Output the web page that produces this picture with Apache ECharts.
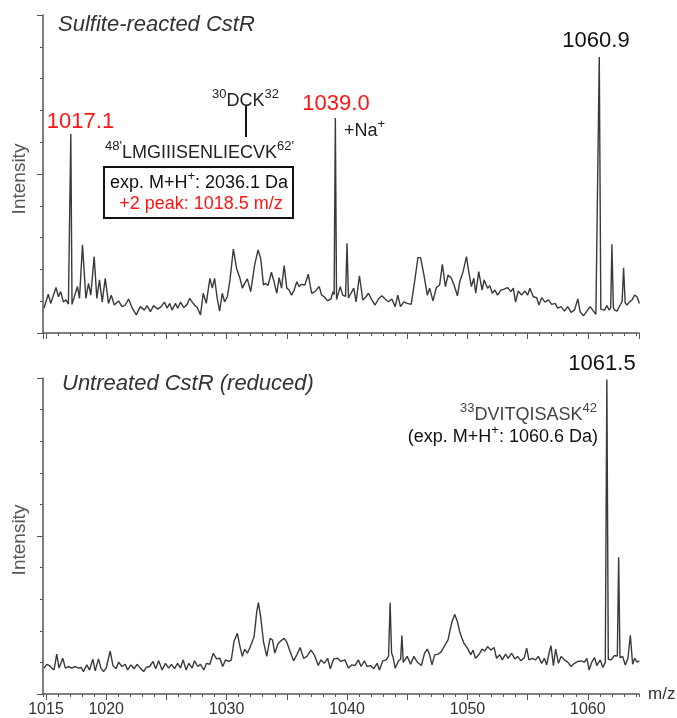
<!DOCTYPE html>
<html><head><meta charset="utf-8">
<script src="https://cdn.jsdelivr.net/npm/echarts@6/dist/echarts.min.js"></script>
<style>html,body{margin:0;padding:0;background:#fff}#c{width:677px;height:718px}</style>
</head><body><div id="c"></div>
<script>
// ---- Data (m/z, relative intensity 0-100 of panel height) ----
const topMz = [1014.83,1015.19,1015.39,1015.83,1016.03,1016.22,1016.44,1016.67,1016.86,1016.96,1017.06,1017.16,1017.28,1017.61,1017.78,1018.03,1018.31,1018.53,1018.72,1019.00,1019.22,1019.44,1019.67,1019.92,1020.19,1020.42,1020.67,1021.03,1021.31,1021.58,1021.86,1022.14,1022.50,1022.83,1023.17,1023.39,1023.67,1023.94,1024.28,1024.56,1024.83,1025.06,1025.28,1025.47,1025.75,1025.94,1026.17,1026.44,1026.72,1026.94,1027.14,1027.33,1027.56,1027.83,1028.06,1028.31,1028.61,1028.81,1029.00,1029.22,1029.42,1029.64,1029.83,1030.06,1030.28,1030.56,1030.83,1031.11,1031.31,1031.50,1031.72,1032.00,1032.33,1032.61,1032.83,1033.06,1033.25,1033.44,1033.72,1033.94,1034.17,1034.36,1034.56,1034.78,1035.00,1035.19,1035.39,1035.61,1035.83,1036.03,1036.22,1036.50,1036.78,1037.06,1037.33,1037.69,1037.89,1038.11,1038.39,1038.67,1038.83,1038.93,1039.03,1039.13,1039.22,1039.44,1039.64,1039.88,1040.00,1040.12,1040.28,1040.56,1040.75,1041.03,1041.31,1041.58,1041.78,1042.06,1042.33,1042.61,1042.89,1043.17,1043.44,1043.72,1044.00,1044.22,1044.44,1044.72,1045.00,1045.33,1045.61,1045.89,1046.11,1046.39,1046.67,1046.86,1047.14,1047.42,1047.69,1047.92,1048.17,1048.39,1048.67,1048.89,1049.17,1049.36,1049.64,1049.92,1050.11,1050.33,1050.53,1050.69,1050.94,1051.22,1051.39,1051.67,1051.86,1052.06,1052.28,1052.50,1052.78,1053.06,1053.33,1053.61,1053.81,1054.00,1054.22,1054.50,1054.78,1055.00,1055.19,1055.47,1055.75,1055.94,1056.17,1056.44,1056.72,1057.00,1057.28,1057.50,1057.78,1058.06,1058.33,1058.61,1058.89,1059.17,1059.36,1059.64,1059.92,1060.19,1060.47,1060.67,1060.83,1060.95,1061.08,1061.39,1061.58,1061.78,1061.90,1062.00,1062.12,1062.22,1062.42,1062.69,1062.85,1062.97,1063.10,1063.25,1063.44,1063.67,1063.89,1064.08,1064.28];
const topIntensity = [7.8,12.2,9.3,14.3,11.4,13.0,9.8,10.4,9.1,9.5,62.6,9.0,9.3,14.6,10.9,27.7,10.9,15.6,11.9,24.0,10.9,16.7,9.8,17.2,9.3,11.9,8.8,10.1,8.3,8.8,10.7,8.0,5.7,8.3,7.2,8.6,6.7,8.6,7.5,8.3,9.7,7.8,9.3,7.2,9.3,7.8,9.7,8.0,9.0,10.9,9.7,8.8,8.0,5.7,12.5,9.3,17.2,14.1,17.2,10.9,6.9,12.5,9.8,11.4,16.7,26.4,20.3,17.2,14.1,15.6,17.0,13.0,21.4,26.1,23.5,15.1,15.6,14.9,19.1,16.1,12.5,17.4,14.1,21.2,14.1,13.5,11.9,13.5,16.1,14.6,15.3,15.1,18.5,12.5,13.0,14.6,11.9,11.4,10.1,10.7,13.0,12.0,67.6,10.5,10.9,14.6,11.9,11.5,28.2,11.0,10.4,14.1,9.8,18.0,10.4,11.4,12.5,10.4,8.8,10.7,11.7,10.7,9.8,10.7,8.3,11.9,8.3,9.8,9.3,9.0,16.1,23.7,23.7,18.2,11.9,14.1,10.1,14.3,15.1,21.6,14.6,18.2,17.2,15.1,11.7,16.1,19.3,24.0,19.3,14.6,17.2,12.5,19.3,13.5,16.7,14.1,14.9,12.5,13.5,11.9,13.5,13.8,14.3,13.0,14.1,9.7,13.2,11.9,13.2,11.9,14.1,11.4,11.1,8.8,11.1,9.7,10.4,9.0,9.3,7.8,8.3,6.9,8.3,6.5,7.2,10.7,6.7,5.4,6.9,8.3,6.9,5.9,6.5,86.8,7.5,7.2,8.6,7.2,8.0,27.9,8.0,7.2,6.9,8.8,10.0,20.5,9.5,8.8,9.7,10.4,11.9,11.4,9.3];
const bottomMz = [1014.83,1015.06,1015.28,1015.47,1015.67,1015.89,1016.08,1016.39,1016.61,1016.86,1017.14,1017.42,1017.69,1017.92,1018.11,1018.39,1018.61,1018.89,1019.08,1019.36,1019.56,1019.78,1020.00,1020.33,1020.56,1020.83,1021.03,1021.31,1021.58,1021.78,1022.06,1022.33,1022.56,1022.83,1023.11,1023.33,1023.61,1023.89,1024.11,1024.36,1024.64,1024.92,1025.19,1025.42,1025.67,1025.94,1026.17,1026.39,1026.64,1026.86,1027.14,1027.33,1027.61,1027.83,1028.11,1028.33,1028.61,1028.89,1029.17,1029.44,1029.67,1029.92,1030.19,1030.39,1030.61,1030.89,1031.11,1031.31,1031.50,1031.72,1031.94,1032.28,1032.50,1032.64,1032.83,1033.06,1033.33,1033.61,1033.81,1034.00,1034.28,1034.50,1034.78,1035.00,1035.28,1035.56,1035.83,1036.11,1036.39,1036.67,1037.00,1037.28,1037.61,1037.83,1038.11,1038.39,1038.61,1038.89,1039.22,1039.50,1039.83,1040.11,1040.39,1040.67,1040.94,1041.17,1041.44,1041.67,1041.94,1042.22,1042.50,1042.69,1042.97,1043.25,1043.45,1043.58,1043.70,1043.81,1044.00,1044.28,1044.45,1044.56,1044.67,1044.78,1045.00,1045.28,1045.56,1045.83,1046.17,1046.44,1046.67,1046.86,1047.06,1047.28,1047.56,1047.83,1048.11,1048.39,1048.53,1048.72,1048.94,1049.17,1049.36,1049.50,1049.72,1050.00,1050.28,1050.47,1050.67,1050.94,1051.22,1051.44,1051.67,1051.94,1052.22,1052.42,1052.69,1052.89,1053.17,1053.39,1053.67,1053.94,1054.17,1054.44,1054.72,1054.92,1055.11,1055.39,1055.67,1055.89,1056.17,1056.39,1056.58,1056.78,1056.94,1057.14,1057.33,1057.56,1057.78,1058.06,1058.33,1058.61,1058.89,1059.17,1059.44,1059.72,1059.92,1060.11,1060.33,1060.56,1060.75,1061.03,1061.25,1061.45,1061.58,1061.70,1061.94,1062.22,1062.45,1062.56,1062.67,1062.89,1063.11,1063.33,1063.53,1063.72,1063.89,1064.08,1064.28];
const bottomIntensity = [8.2,9.4,9.0,8.2,7.6,12.6,8.2,11.3,8.2,8.7,8.2,8.7,8.2,8.4,7.1,9.2,7.6,11.0,7.3,11.1,8.2,7.1,8.2,13.6,9.0,8.0,10.1,8.7,9.4,7.6,9.2,8.0,9.4,8.2,7.1,8.4,8.7,10.3,8.0,10.5,7.6,9.7,8.2,9.4,8.0,9.7,8.2,10.8,7.6,9.7,8.2,10.5,8.7,9.4,7.6,9.7,9.4,12.9,11.1,11.3,8.7,10.8,10.3,10.8,16.6,19.2,15.0,11.9,14.2,12.9,14.7,18.1,26.0,28.9,24.4,16.6,11.9,17.6,17.1,12.9,16.0,16.8,17.6,16.4,13.4,10.5,12.4,14.7,11.3,11.9,13.9,12.4,9.0,10.8,9.7,11.3,8.0,11.1,11.3,10.3,10.8,8.2,9.2,9.0,10.8,8.7,10.5,8.7,9.0,8.0,9.7,7.6,10.5,10.8,12.0,28.9,13.0,11.9,8.2,10.5,11.0,18.5,10.0,9.7,11.9,9.4,11.9,10.1,9.0,12.9,14.2,12.4,9.2,12.4,12.6,13.4,15.3,17.1,19.7,22.9,25.2,22.9,19.7,18.1,16.0,14.5,12.4,13.9,11.3,12.4,14.2,13.6,15.0,13.9,14.7,11.3,12.4,10.8,12.6,11.3,12.9,11.1,11.9,10.5,11.5,14.5,10.8,11.3,10.8,11.9,9.7,11.3,9.2,12.9,15.3,9.0,14.2,9.7,11.9,10.8,10.1,8.7,9.7,10.3,10.5,10.1,11.3,7.6,10.1,11.5,9.0,10.8,8.4,10.0,99.5,11.0,10.8,12.2,12.0,43.3,11.5,11.9,9.2,11.3,18.6,9.4,11.3,10.1,10.5];
const xTickLabels = [1015, 1020, 1030, 1040, 1050, 1060];
const panelTitles = ['Sulfite-reacted CstR', 'Untreated CstR (reduced)'];

const FONT = 'Liberation Sans, Arial, Helvetica, sans-serif';
const AX = '#555';
const RED = '#ff1414';
const X_MIN = 1014.75, X_MAX = 1064.25;

function pairs(xs, ys) { return xs.map((x, i) => [x, ys[i]]); }

function xAxisCfg(gridIndex, step, tickLen, showLine, showLabels, name) {
  return {
    type: 'value', gridIndex, position: 'bottom', min: X_MIN, max: X_MAX,
    minInterval: step, maxInterval: step,
    axisLine: { show: showLine, onZero: false, lineStyle: { color: AX, width: 1.5 } },
    axisTick: { show: true, length: tickLen, lineStyle: { color: AX, width: 1 } },
    splitLine: { show: false },
    axisLabel: {
      show: showLabels, margin: 8, color: '#333', fontSize: 16, fontFamily: FONT,
      showMinLabel: false, showMaxLabel: false,
      formatter: v => xTickLabels.some(t => Math.abs(t - v) < 1e-6) ? String(Math.round(v)) : ''
    },
    name: name || '', nameLocation: 'end', nameGap: 9,
    nameTextStyle: { color: '#333', fontSize: 17, fontFamily: FONT }
  };
}
function yAxisCfg(gridIndex, interval, tickLen, showLine) {
  return {
    type: 'value', gridIndex, position: 'left', min: 0, max: 100, interval,
    axisLine: { show: showLine, onZero: false, lineStyle: { color: AX, width: 1.5 } },
    axisTick: { show: true, length: tickLen, lineStyle: { color: AX, width: 1 } },
    axisLabel: { show: false }, splitLine: { show: false }
  };
}

const supRich = {
  m: { fontSize: 18, lineHeight: 22, verticalAlign: 'bottom', fontFamily: FONT },
  s: { fontSize: 13, lineHeight: 16, verticalAlign: 'top', fontFamily: FONT }
};
function richText(x, y, text, fill, align) {
  return { type: 'text', x, y, style: { text, fill, align: align || 'center', verticalAlign: 'middle', font: '18px ' + FONT, rich: supRich } };
}
function plainText(x, y, text, size, fill, extra, rotation) {
  return { type: 'text', x, y, rotation: rotation || 0, style: Object.assign({ text, fill, fontSize: size, fontFamily: FONT, align: 'center', verticalAlign: 'middle' }, extra || {}) };
}

const chart = echarts.init(document.getElementById('c'), null, { renderer: 'canvas' });
chart.setOption({
  animation: false,
  backgroundColor: '#fff',
  grid: [
    { left: 43, top: 15, width: 596, height: 318 },
    { left: 43, top: 378, width: 596, height: 318 }
  ],
  xAxis: [
    xAxisCfg(0, 1, 3, true, false),
    xAxisCfg(0, 5, 6, false, false),
    xAxisCfg(1, 1, 3, true, false),
    xAxisCfg(1, 5, 6, false, true, 'm/z')
  ],
  yAxis: [
    yAxisCfg(0, 10, 3, true), yAxisCfg(0, 50, 6, false),
    yAxisCfg(1, 10, 3, true), yAxisCfg(1, 50, 6, false)
  ],
  series: [
    { type: 'line', xAxisIndex: 0, yAxisIndex: 0, data: pairs(topMz, topIntensity), showSymbol: false, lineStyle: { color: '#3a3a3a', width: 1.4 }, clip: true },
    { type: 'line', xAxisIndex: 2, yAxisIndex: 2, data: pairs(bottomMz, bottomIntensity), showSymbol: false, lineStyle: { color: '#3a3a3a', width: 1.4 }, clip: true }
  ],
  graphic: [
    plainText(58, 25, panelTitles[0], 22, '#333', { align: 'left', fontStyle: 'italic' }),
    plainText(62, 384, panelTitles[1], 22, '#333', { align: 'left', fontStyle: 'italic' }),
    plainText(20, 179, 'Intensity', 19, '#555', {}, Math.PI / 2),
    plainText(20, 540, 'Intensity', 19, '#555', {}, Math.PI / 2),
    plainText(80.5, 122, '1017.1', 22, RED),
    plainText(336, 104, '1039.0', 22, RED),
    plainText(596, 41, '1060.9', 22, '#111'),
    plainText(602, 364, '1061.5', 22, '#111'),
    richText(344, 129, '{m|+Na}{s|+}', '#222', 'left'),
    richText(212, 99, '{s|30}{m|DCK}{s|32}', '#222', 'left'),
    { type: 'line', shape: { x1: 246, y1: 106, x2: 246, y2: 137 }, style: { stroke: '#111', lineWidth: 2 } },
    richText(105, 151, "{s|48'}{m|LMGIIISENLIECVK}{s|62'}", '#222', 'left'),
    { type: 'rect', shape: { x: 104, y: 167, width: 189, height: 51 }, style: { fill: 'none', stroke: '#111', lineWidth: 2 } },
    richText(199, 181, '{m|exp. M+H}{s|+}{m|: 2036.1 Da}', '#111', 'center'),
    plainText(201, 204, '+2 peak: 1018.5 m/z', 18, RED),
    richText(597, 413, '{s|33}{m|DVITQISASK}{s|42}', '#444', 'right'),
    richText(598, 435, '{m|(exp. M+H}{s|+}{m|: 1060.6 Da)}', '#111', 'right')
  ]
});
</script></body></html>
